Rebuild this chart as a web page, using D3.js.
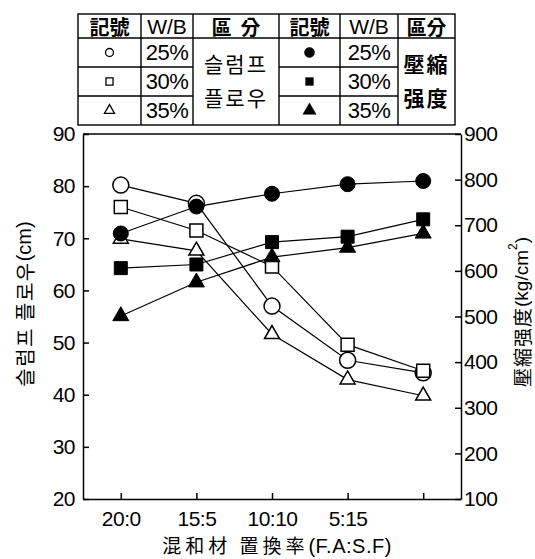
<!DOCTYPE html>
<html>
<head>
  <meta charset="utf-8">
  <script src="https://d3js.org/d3.v7.min.js"></script>
</head>
<style>
  body { margin: 0; background: #fff; }
  svg { display: block; }
  text { fill: #000; font-family: "Liberation Sans", Arial, sans-serif; }
  .cjk { font-family: "Noto Sans CJK KR", "Noto Sans CJK JP", sans-serif; }
  .axis path, .axis line { stroke: #000; stroke-width: 1.5px; }
  .axis text { font-size: 21px; font-family: "Liberation Sans", Arial, sans-serif; letter-spacing: -0.5px; }
  .series { fill: none; stroke: #000; stroke-width: 1.2px; }
  .grid { stroke: #000; stroke-width: 1.4px; fill: none; }
  .latin { font-family: "Liberation Sans", Arial, sans-serif; }
</style>
<body>
  <svg id="chart" width="535" height="559"></svg>
  <script>
    // mixing ratio F.A : S.F (last tick is left unlabeled in the original)
    const categories = ["20:0", "15:5", "10:10", "5:15", "0:20"];
    const tickLabels = ["20:0", "15:5", "10:10", "5:15", ""];
    const wbLabels = ["25%", "30%", "35%"];

    // slump flow (cm), left axis
    const slump25 = [80.2, 76.7, 57.0, 46.6, 44.2];
    const slump30 = [76.0, 71.5, 64.6, 49.6, 44.6];
    const slump35 = [69.9, 67.6, 51.6, 42.9, 39.8];

    // compressive strength (kg/cm2), right axis
    const strength25 = [682, 741, 769, 790, 797];
    const strength30 = [606, 614, 663, 675, 713];
    const strength35 = [501, 575, 630, 651, 682];

    const leftTicks = [20, 30, 40, 50, 60, 70, 80, 90];
    const rightTicks = [100, 200, 300, 400, 500, 600, 700, 800, 900];

    const svg = d3.select("#chart");
    const pLeft = 83, pRight = 461, pTop = 134, pBottom = 499;

    const x = d3.scalePoint().domain(categories).range([pLeft, pRight]).padding(0.5);
    const yL = d3.scaleLinear().domain([20, 90]).range([pBottom, pTop]);
    const yR = d3.scaleLinear().domain([100, 900]).range([pBottom, pTop]);

    const symbols = [d3.symbolCircle, d3.symbolSquare, d3.symbolTriangle];
    const openSizes = [201, 169, 97];
    const fillSizes = [177, 169, 111];

    // frame top
    svg.append("line")
      .attr("x1", pLeft).attr("x2", pRight).attr("y1", pTop).attr("y2", pTop)
      .attr("stroke", "#000").attr("stroke-width", 1.5);

    // axes, ticks point inward
    svg.append("g").attr("class", "axis")
      .attr("transform", `translate(${pLeft},0)`)
      .call(d3.axisLeft(yL).tickValues(leftTicks).tickSize(-6).tickSizeOuter(0).tickPadding(8));

    svg.append("g").attr("class", "axis")
      .attr("transform", `translate(${pRight},0)`)
      .call(d3.axisRight(yR).tickValues(rightTicks).tickSize(-6).tickSizeOuter(0).tickPadding(3));

    svg.append("g").attr("class", "axis")
      .attr("transform", `translate(0,${pBottom})`)
      .call(d3.axisBottom(x).tickSize(-6).tickSizeOuter(0).tickPadding(12)
        .tickFormat((d, i) => tickLabels[i]));

    // axis titles
    svg.append("text")
      .attr("class", "cjk")
      .attr("transform", "translate(277,553)")
      .attr("text-anchor", "middle")
      .style("font-size", "19px")
      .call(t => {
        t.append("tspan").attr("letter-spacing", "4px").text("混和材 置換率");
        t.append("tspan").attr("class", "latin").style("font-size", "20px")
          .attr("letter-spacing", "0.5px").text("(F.A:S.F)");
      });

    svg.append("text")
      .attr("class", "cjk")
      .attr("transform", "translate(24,304) rotate(-90)")
      .attr("text-anchor", "middle")
      .attr("dominant-baseline", "central")
      .style("font-size", "20px")
      .call(t => {
        t.append("tspan").attr("letter-spacing", "1.5px").text("슬럼프 플로우");
        t.append("tspan").attr("class", "latin").text("(cm)");
      });

    svg.append("text")
      .attr("class", "cjk")
      .attr("transform", "translate(521,312) rotate(-90)")
      .attr("text-anchor", "middle")
      .attr("dominant-baseline", "central")
      .style("font-size", "19px")
      .call(t => {
        t.append("tspan").attr("letter-spacing", "1px").text("壓縮强度");
        t.append("tspan").attr("class", "latin").text("(kg/cm");
        t.append("tspan").attr("class", "latin")
          .style("font-size", "12px").attr("dy", "-8").text("2");
        t.append("tspan").attr("class", "latin").attr("dy", "8").text(")");
      });

    // series
    const slumpData = [slump25, slump30, slump35];
    const strengthData = [strength25, strength30, strength35];

    function drawSeries(values, yScale, i, filled) {
      const pts = values.map((v, j) => [x(categories[j]), yScale(v)]);
      svg.append("path").attr("class", "series").attr("d", d3.line()(pts));
      svg.append("g").selectAll("path")
        .data(pts)
        .join("path")
        .attr("transform", d => `translate(${d[0]},${d[1]})`)
        .attr("d", d3.symbol().type(symbols[i]).size(filled ? fillSizes[i] : openSizes[i]))
        .attr("fill", filled ? "#000" : "#fff")
        .attr("stroke", "#000")
        .attr("stroke-width", filled ? 1 : 1.5);
    }

    slumpData.forEach((s, i) => drawSeries(s, yL, i, false));
    strengthData.forEach((s, i) => drawSeries(s, yR, i, true));

    // legend table
    const cols = [78, 141, 193, 279, 340, 398, 455];
    const rows = [14, 38, 67, 96, 125];
    const tbl = svg.append("g");
    tbl.append("rect").attr("class", "grid")
      .attr("x", cols[0]).attr("y", rows[0])
      .attr("width", cols[6] - cols[0]).attr("height", rows[4] - rows[0]);
    cols.slice(1, 6).forEach(c => {
      tbl.append("line").attr("class", "grid")
        .attr("x1", c).attr("x2", c).attr("y1", rows[0]).attr("y2", rows[4]);
    });
    tbl.append("line").attr("class", "grid")
      .attr("x1", cols[0]).attr("x2", cols[6]).attr("y1", rows[1]).attr("y2", rows[1]);
    [rows[2], rows[3]].forEach(r => {
      [[cols[0], cols[2]], [cols[3], cols[5]]].forEach(seg => {
        tbl.append("line").attr("class", "grid")
          .attr("x1", seg[0]).attr("x2", seg[1]).attr("y1", r).attr("y2", r);
      });
    });

    const headers = ["記號", "W/B", "區  分", "記號", "W/B", "區分"];
    headers.forEach((h, i) => {
      tbl.append("text")
        .attr("class", h === "W/B" ? null : "cjk")
        .attr("x", (cols[i] + cols[i + 1]) / 2)
        .attr("y", (rows[0] + rows[1]) / 2)
        .attr("text-anchor", "middle")
        .attr("dominant-baseline", "central")
        .style("font-size", h === "W/B" ? "21px" : "20px")
        .style("font-weight", h === "W/B" ? null : "bold")
        .style("white-space", "pre")
        .text(h);
    });

    wbLabels.forEach((w, i) => {
      const cy = (rows[i + 1] + rows[i + 2]) / 2;
      [0, 3].forEach((c0, k) => {
        tbl.append("path")
          .attr("transform", `translate(${(cols[c0] + cols[c0 + 1]) / 2},${cy})`)
          .attr("d", d3.symbol().type(symbols[i]).size(k ? [80, 60, 75][i] : [50, 50, 45][i]))
          .attr("fill", k ? "#000" : "#fff")
          .attr("stroke", "#000")
          .attr("stroke-width", k ? 0.5 : 1.3);
        tbl.append("text")
          .attr("x", (cols[c0 + 1] + cols[c0 + 2]) / 2)
          .attr("y", cy)
          .attr("text-anchor", "middle")
          .attr("dominant-baseline", "central")
          .style("font-size", "22px")
          .style("letter-spacing", "-0.5px")
          .text(w);
      });
    });

    [["슬럼프", "플로우", 2], ["壓縮", "强度", 5]].forEach(([a, b, c]) => {
      const cx = (cols[c] + cols[c + 1]) / 2;
      [a, b].forEach((s, k) => {
        tbl.append("text")
          .attr("class", "cjk")
          .attr("x", cx)
          .attr("y", k ? 97 : 63)
          .attr("text-anchor", "middle")
          .attr("dominant-baseline", "central")
          .attr("letter-spacing", "2px")
          .style("font-size", "21px")
          .style("font-weight", c === 5 ? "bold" : null)
          .text(s);
      });
    });
  </script>
</body>
</html>
